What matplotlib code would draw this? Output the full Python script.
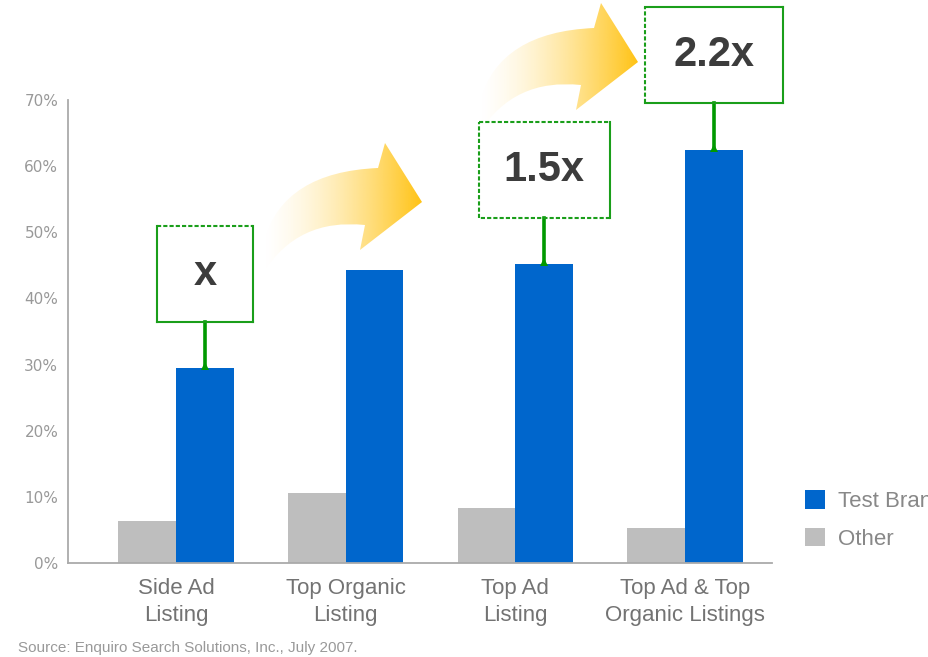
import numpy as np
import matplotlib
matplotlib.use("Agg")
import matplotlib.pyplot as plt
from matplotlib.path import Path
from matplotlib.patches import PathPatch, Patch

# ---------------- data ----------------
categories = ["Side Ad\nListing", "Top Organic\nListing", "Top Ad\nListing",
              "Top Ad & Top\nOrganic Listings"]
test_brand = [29.5, 44.3, 45.2, 62.5]
other = [6.4, 10.6, 8.3, 5.3]
series_names = ["Test Brand", "Other"]
yticks = [0, 10, 20, 30, 40, 50, 60, 70]
ytick_labels = ["0%", "10%", "20%", "30%", "40%", "50%", "60%", "70%"]
multiplier_index = [0, 2, 3]
multiplier_labels = ["x", "1.5x", "2.2x"]
source_text = "Source: Enquiro Search Solutions, Inc., July 2007."

# ---------------- style ----------------
BLUE = "#0066CC"
GREY = "#BEBEBE"
GREEN = "#1A9E1A"
AXIS = "#AAAAAA"
TICK = "#999999"
CAT = "#737373"
FONT = ["Liberation Sans", "DejaVu Sans"]

W, H = 929, 657
fig = plt.figure(figsize=(W / 100, H / 100), dpi=100, facecolor="white")

# overlay axes in pixel coordinates for decorative gradient arrows
ov = fig.add_axes([0, 0, 1, 1])
ov.set_xlim(0, W)
ov.set_ylim(H, 0)
ov.axis("off")
ov.set_zorder(0)

ax = fig.add_axes([68 / W, 1 - 563 / H, (772 - 68) / W, (563 - 100) / H])
ax.set_zorder(1)
ax.patch.set_alpha(0)

x = np.arange(len(categories))
bw = 0.34
ax.bar(x - bw / 2, other, bw, color=GREY, label=series_names[1], zorder=2)
ax.bar(x + bw / 2, test_brand, bw, color=BLUE, label=series_names[0], zorder=2)

ax.set_xlim(-0.636, 3.512)
ax.set_ylim(0, 70)
ax.set_yticks(yticks)
ax.set_yticklabels(ytick_labels, fontsize=11, color=TICK, family="DejaVu Sans")
ax.set_xticks(x)
ax.set_xticklabels(categories, fontsize=16, color=CAT, family=FONT, linespacing=1.35)
ax.tick_params(axis="y", length=0, pad=7)
ax.tick_params(axis="x", length=0, pad=11)
for s in ["top", "right"]:
    ax.spines[s].set_visible(False)
for s in ["left", "bottom"]:
    ax.spines[s].set_color(AXIS)
    ax.spines[s].set_linewidth(1.3)

# ---------------- multiplier call-out boxes ----------------
box_widths = [0.566, 0.772, 0.813]
box_gap = 7.0
box_h = 14.5
# side styles: left, top, right, bottom
side_styles = [
    ["-", (0, (2, 1)), "-", "-"],
    [(0, (2, 1)), (0, (2, 1)), "-", (0, (2, 1))],
    [(0, (2, 1)), "-", "-", "-"],
]
for k, (i, lab) in enumerate(zip(multiplier_index, multiplier_labels)):
    cx = x[i] + bw / 2
    val = test_brand[i]
    b = val + box_gap
    t = b + box_h
    l = cx - box_widths[k] / 2
    r = cx + box_widths[k] / 2
    sides = [([l, l], [b, t]), ([l, r], [t, t]), ([r, r], [t, b]), ([r, l], [b, b])]
    for (xs, ys), ls in zip(sides, side_styles[k]):
        ax.plot(xs, ys, color=GREEN, lw=1.5, linestyle=ls, clip_on=False,
                zorder=4, solid_capstyle="projecting")
    ax.plot([cx, cx], [val, b], color="#009900", lw=2.6, clip_on=False, zorder=3)
    ax.plot([cx], [val + 0.3], marker="^", ms=6, color="#009900", clip_on=False,
            zorder=3, markeredgewidth=0)
    ax.text(cx, (b + t) / 2, lab, ha="center", va="center", fontsize=30,
            fontweight="bold", color="#3C3C3C", family=FONT, zorder=5, clip_on=False)

# ---------------- gradient curved arrows (decorative) ----------------
arrow_shape = [
    (264, 240), (284, 172), (378, 168),   # upper shaft edge (quadratic)
    (385, 143), (422, 202), (360, 250), (365, 225),  # head
    (298, 218), (264, 272),               # lower shaft edge (quadratic)
]
codes = [Path.MOVETO, Path.CURVE3, Path.CURVE3,
         Path.LINETO, Path.LINETO, Path.LINETO, Path.LINETO,
         Path.CURVE3, Path.CURVE3, Path.CLOSEPOLY]
arrow_offsets = [(0, 0), (216, -140)]
grad = np.linspace(0, 1, 256) ** 1.5
img = np.zeros((2, 256, 4))
img[..., 0] = 1.0
img[..., 1] = 195 / 255
img[..., 2] = 20 / 255
img[..., 3] = grad[None, :]
for dx, dy in arrow_offsets:
    verts = [(px + dx, py + dy) for px, py in arrow_shape] + [(0, 0)]
    path = Path(verts, codes)
    patch = PathPatch(path, facecolor="none", edgecolor="none")
    ov.add_patch(patch)
    x0, x1 = 262 + dx, 422 + dx
    y0, y1 = 140 + dy, 274 + dy
    im = ov.imshow(img, extent=(x0, x1, y1, y0), aspect="auto",
                   interpolation="bilinear", zorder=1)
    im.set_clip_path(patch)

# ---------------- legend ----------------
handles = [Patch(facecolor=BLUE), Patch(facecolor=GREY)]
fig.legend(handles, series_names, loc="center left",
           bbox_to_anchor=(805 / W, 1 - 520 / H), frameon=False,
           handlelength=0.9, handleheight=0.9, handletextpad=0.6,
           labelspacing=0.7, prop={"family": FONT, "size": 16},
           labelcolor="#888888", borderaxespad=0, borderpad=0)

# ---------------- source ----------------
fig.text(18 / W, 1 - 652 / H, source_text, fontsize=11, color=TICK,
         family=FONT, va="baseline", ha="left")

fig.savefig("out.png", dpi=100, facecolor="white")
